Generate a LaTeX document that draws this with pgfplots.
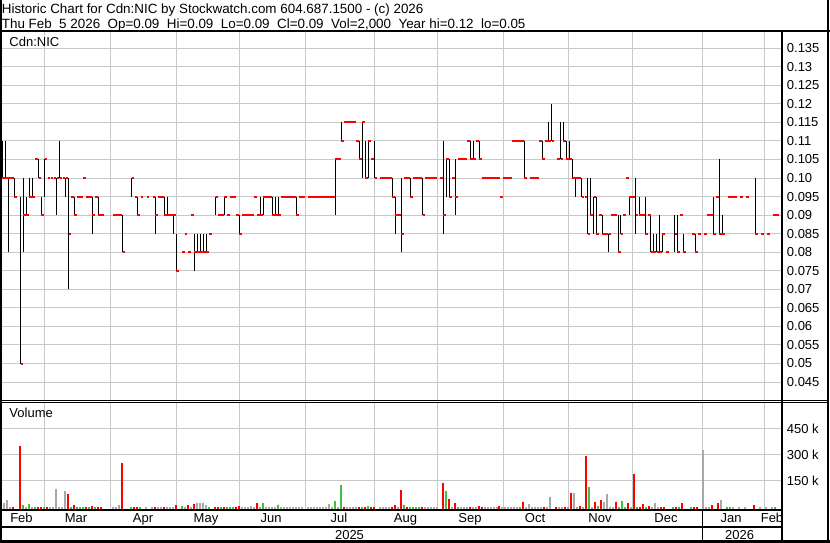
\documentclass[border=0pt]{standalone}
\usepackage{pgfplots}
\pgfplotsset{compat=1.18}
\usepackage{pgfplotstable}
\usepackage{fontspec}
\setmainfont{Liberation Sans}
\definecolor{gridc}{RGB}{200,200,200}
\definecolor{volg}{RGB}{64,192,64}
\definecolor{volgray}{RGB}{168,168,168}
\newcommand{\fs}{\fontsize{13bp}{15bp}\selectfont}
\newcommand{\fst}{\fontsize{13.4bp}{15bp}\selectfont}

% price bars: x position (px), high, low, close
\pgfplotstableread{
x hi lo cl
2.2 0.11 0.10 0.10
5.3 0.11 0.10 0.10
8.3 0.10 0.08 0.10
11.3 0.10 0.10 0.10
14.3 0.10 0.095 0.095
20.7 0.095 0.05 0.05
23.3 0.10 0.08 0.09
26.3 0.095 0.09 0.09
29.3 0.10 0.095 0.095
32.3 0.10 0.095 0.095
35.3 0.105 0.105 0.105
38.7 0.105 0.10 0.10
41.3 0.095 0.09 0.09
44.7 0.105 0.095 0.105
47.5 0.10 0.10 0.10
50.5 0.10 0.10 0.10
53.5 0.10 0.10 0.10
56.7 0.10 0.09 0.10
59.7 0.11 0.10 0.10
62.7 0.10 0.10 0.10
65.7 0.10 0.095 0.10
68.7 0.10 0.07 0.085
71.3 0.095 0.095 0.095
74.3 0.095 0.09 0.09
77.3 0.095 0.095 0.095
80.3 0.095 0.095 0.095
83.0 0.10 0.10 0.10
86.0 0.095 0.095 0.095
89.0 0.095 0.095 0.095
92.3 0.095 0.085 0.09
95.3 0.095 0.095 0.095
98.3 0.095 0.09 0.09
101.3 0.09 0.09 0.09
113.3 0.09 0.09 0.09
116.3 0.09 0.09 0.09
119.3 0.09 0.09 0.09
122.7 0.09 0.08 0.08
131.7 0.10 0.095 0.10
134.5 0.095 0.095 0.095
137.3 0.095 0.09 0.09
140.5 0.095 0.095 0.095
146.5 0.095 0.095 0.095
152.5 0.095 0.095 0.095
155.3 0.095 0.085 0.09
158.3 0.095 0.095 0.095
161.3 0.095 0.095 0.095
164.3 0.095 0.09 0.09
167.0 0.095 0.09 0.09
170.0 0.09 0.09 0.09
173.3 0.09 0.085 0.09
176.3 0.085 0.075 0.075
182.0 0.08 0.08 0.08
184.7 0.085 0.085 0.085
188.0 0.08 0.08 0.08
191.0 0.09 0.09 0.09
194.3 0.085 0.075 0.08
197.3 0.085 0.08 0.08
200.3 0.085 0.08 0.08
203.3 0.085 0.08 0.08
206.3 0.085 0.08 0.08
209.0 0.085 0.085 0.085
215.7 0.095 0.09 0.095
218.3 0.09 0.09 0.09
221.3 0.09 0.09 0.09
224.3 0.095 0.09 0.095
227.0 0.09 0.09 0.09
230.0 0.095 0.095 0.095
233.0 0.095 0.095 0.095
236.0 0.09 0.09 0.09
239.3 0.09 0.085 0.085
242.0 0.09 0.09 0.09
245.0 0.09 0.09 0.09
248.0 0.09 0.09 0.09
251.0 0.09 0.09 0.09
254.0 0.095 0.095 0.095
257.3 0.09 0.09 0.09
260.3 0.095 0.09 0.09
263.3 0.095 0.09 0.095
266.3 0.095 0.095 0.095
269.3 0.095 0.095 0.095
272.3 0.095 0.09 0.09
275.3 0.095 0.09 0.09
278.3 0.095 0.09 0.09
281.3 0.095 0.095 0.095
284.3 0.095 0.095 0.095
287.3 0.095 0.095 0.095
290.3 0.095 0.095 0.095
293.3 0.095 0.095 0.095
296.3 0.095 0.09 0.09
299.3 0.095 0.095 0.095
302.3 0.095 0.095 0.095
308.3 0.095 0.095 0.095
311.3 0.095 0.095 0.095
314.3 0.095 0.095 0.095
317.3 0.095 0.095 0.095
320.3 0.095 0.095 0.095
323.3 0.095 0.095 0.095
326.3 0.095 0.095 0.095
329.3 0.095 0.095 0.095
332.3 0.095 0.095 0.095
335.3 0.105 0.09 0.105
338.3 0.105 0.105 0.105
341.3 0.115 0.11 0.11
344.3 0.115 0.115 0.115
347.3 0.115 0.115 0.115
350.3 0.115 0.115 0.115
353.3 0.115 0.115 0.115
356.3 0.11 0.11 0.11
359.3 0.11 0.105 0.105
362.3 0.115 0.10 0.115
365.3 0.11 0.10 0.10
368.3 0.11 0.10 0.11
371.0 0.105 0.105 0.105
374.7 0.11 0.10 0.10
380.0 0.10 0.10 0.10
383.0 0.10 0.10 0.10
386.0 0.10 0.10 0.10
389.0 0.10 0.10 0.10
392.3 0.10 0.095 0.095
395.3 0.095 0.085 0.09
398.3 0.09 0.09 0.09
401.3 0.10 0.08 0.085
404.3 0.10 0.10 0.10
407.3 0.10 0.10 0.10
410.3 0.10 0.095 0.095
413.3 0.10 0.10 0.10
416.3 0.10 0.10 0.10
419.3 0.10 0.10 0.10
422.7 0.10 0.09 0.09
425.3 0.10 0.10 0.10
428.3 0.10 0.10 0.10
431.3 0.10 0.10 0.10
434.3 0.10 0.10 0.10
440.0 0.10 0.10 0.10
443.3 0.11 0.085 0.09
446.3 0.105 0.095 0.105
449.3 0.105 0.095 0.095
452.3 0.10 0.10 0.10
455.3 0.105 0.09 0.095
458.3 0.105 0.105 0.105
461.3 0.105 0.105 0.105
464.3 0.105 0.105 0.105
467.3 0.11 0.11 0.11
470.3 0.11 0.105 0.105
473.0 0.11 0.105 0.105
476.0 0.11 0.11 0.11
479.0 0.11 0.105 0.105
482.0 0.10 0.10 0.10
485.0 0.10 0.10 0.10
488.0 0.10 0.10 0.10
491.0 0.10 0.10 0.10
494.0 0.10 0.10 0.10
497.0 0.10 0.10 0.10
500.3 0.095 0.095 0.095
503.3 0.10 0.10 0.10
506.3 0.10 0.10 0.10
509.3 0.10 0.10 0.10
512.0 0.11 0.11 0.11
515.0 0.11 0.11 0.11
518.0 0.11 0.11 0.11
521.0 0.11 0.11 0.11
524.3 0.11 0.10 0.10
530.0 0.10 0.10 0.10
533.0 0.10 0.10 0.10
536.0 0.10 0.10 0.10
539.0 0.11 0.11 0.11
542.3 0.11 0.105 0.105
545.3 0.11 0.11 0.11
548.3 0.115 0.11 0.11
551.7 0.12 0.11 0.11
557.0 0.105 0.105 0.105
560.7 0.115 0.105 0.105
563.3 0.115 0.11 0.11
566.3 0.11 0.105 0.105
569.3 0.11 0.105 0.105
572.3 0.105 0.10 0.10
575.3 0.10 0.095 0.10
578.3 0.10 0.10 0.10
581.7 0.10 0.095 0.095
584.7 0.095 0.095 0.095
587.7 0.10 0.085 0.085
590.3 0.10 0.09 0.09
593.7 0.095 0.085 0.095
596.3 0.095 0.085 0.085
599.3 0.09 0.09 0.09
602.0 0.09 0.085 0.085
605.0 0.085 0.085 0.085
608.7 0.085 0.08 0.085
611.3 0.09 0.09 0.09
614.3 0.09 0.09 0.09
618.0 0.09 0.08 0.08
620.7 0.09 0.085 0.085
623.0 0.09 0.09 0.09
626.0 0.10 0.10 0.10
629.3 0.095 0.09 0.095
632.3 0.095 0.095 0.095
635.7 0.10 0.085 0.09
639.0 0.095 0.09 0.09
642.0 0.09 0.09 0.09
645.0 0.095 0.085 0.085
648.0 0.09 0.09 0.09
650.7 0.09 0.08 0.08
653.3 0.085 0.08 0.08
656.7 0.085 0.08 0.08
659.3 0.09 0.08 0.08
662.3 0.085 0.08 0.085
666.0 0.08 0.08 0.08
674.7 0.09 0.08 0.085
677.3 0.09 0.08 0.08
680.3 0.09 0.09 0.09
683.3 0.085 0.08 0.08
692.0 0.085 0.085 0.085
695.3 0.085 0.08 0.08
698.0 0.085 0.085 0.085
704.0 0.085 0.085 0.085
707.3 0.09 0.09 0.09
710.3 0.09 0.09 0.09
713.3 0.095 0.085 0.085
716.0 0.095 0.095 0.095
719.3 0.105 0.085 0.085
722.3 0.09 0.085 0.085
728.3 0.095 0.095 0.095
731.3 0.095 0.095 0.095
734.3 0.095 0.095 0.095
740.0 0.095 0.095 0.095
746.0 0.095 0.095 0.095
755.3 0.10 0.085 0.085
761.0 0.085 0.085 0.085
767.0 0.085 0.085 0.085
773.3 0.09 0.09 0.09
776.3 0.09 0.09 0.09
}\pricedata

\pgfplotstableread{
x v
13.3 0
19.7 353000
37.7 0
40.7 1000
46.7 0
67.7 76000
73.7 13000
85.7 0
91.7 3000
97.7 0
100.7 0
121.7 255000
133.7 0
136.7 0
154.7 1000
163.7 1000
175.7 13000
187.7 11000
193.7 19000
214.7 0
217.7 0
223.7 0
235.7 0
238.7 7000
256.7 24000
343.7 0
358.7 0
364.7 0
370.7 0
373.7 0
391.7 1000
394.7 13000
400.7 99000
406.7 0
421.7 1000
442.7 138000
448.7 47000
454.7 24000
469.7 0
478.7 5000
481.7 1000
499.3 7000
523.3 30000
544.3 0
556.3 0
565.3 0
571.3 82000
580.3 5000
586.3 296000
595.3 30000
601.3 40000
616.3 30000
628.3 24000
634.3 192000
640.3 1000
643.3 17000
649.3 7000
661.3 0
664.3 1000
676.3 1000
682.3 24000
694.3 0
697.3 0
712.3 11000
718.3 24000
754.3 11000
}\volred

\pgfplotstableread{
x v
22.7 11000
28.7 19000
34.7 1000
43.7 0
70.7 0
76.7 0
79.7 0
82.7 0
88.7 0
94.7 0
130.7 1000
139.7 1000
181.7 5000
208.7 0
220.7 0
226.7 0
229.7 0
232.7 0
262.7 24000
277.7 11000
334.7 36000
340.7 126000
361.7 1000
367.7 5000
403.7 13000
409.7 0
412.7 0
415.7 0
418.7 0
445.7 94000
457.7 0
520.3 0
589.3 117000
598.3 5000
619.3 0
622.3 36000
625.3 0
637.3 0
646.3 0
673.3 0
679.3 0
691.3 0
727.3 0
730.3 0
775.3 0
}\volgreen

\pgfplotstableread{
x v
1.3 36000
4.0 24000
7.3 42000
10.3 0
25.7 0
31.7 0
49.7 0
52.7 0
55.7 105000
58.7 0
61.7 0
64.7 94000
112.7 0
115.7 1000
118.7 13000
145.7 0
151.7 0
157.7 0
160.7 0
166.7 0
169.7 0
172.7 0
184.7 0
190.7 0
196.7 24000
199.7 24000
202.7 24000
205.7 11000
241.7 0
244.7 0
247.7 0
250.7 7000
253.7 0
259.7 0
265.7 0
268.7 0
271.7 0
274.7 0
280.7 0
283.7 0
286.7 0
289.7 0
292.7 0
295.7 0
298.7 0
301.7 0
307.7 0
310.7 0
313.7 0
316.7 0
319.7 0
322.7 0
325.7 0
328.7 19000
331.7 0
337.7 1000
346.7 0
349.7 0
352.7 0
355.7 0
379.7 1000
382.7 0
385.7 0
388.7 0
397.7 0
424.7 0
427.7 0
430.7 0
433.7 0
436.7 0
451.7 0
460.7 0
463.7 0
466.7 0
472.7 0
475.7 0
484.7 0
487.7 0
490.7 0
493.7 0
496.7 0
502.3 1000
505.3 1000
508.3 1000
511.3 0
514.3 0
517.3 1000
526.3 0
529.3 17000
532.3 0
535.3 1000
538.3 0
541.3 0
547.3 0
550.3 59000
559.3 1000
562.3 0
568.3 1000
574.3 82000
577.3 0
583.3 0
592.3 0
604.3 30000
607.3 74000
610.3 0
613.3 1000
631.3 0
652.3 0
655.3 24000
658.3 0
703.3 328000
706.3 0
709.3 0
721.3 40000
733.3 0
739.3 0
745.3 0
760.3 1000
766.3 0
772.3 0
}\volgray

\pgfplotsset{
  chartbase/.style={
    scale only axis, anchor=north west, width=779bp,
    xmin=2, xmax=781,
    axis line style={draw=none},
    xtick={44.3,110.3,176.3,239.3,305.7,374.3,437.3,503.3,568.3,632.7,702,764.7},
    xticklabels={},
    xmajorgrids, ymajorgrids,
    major grid style={gridc, line width=1bp},
    major tick length=0pt, minor tick length=0pt,
    scaled y ticks=false, scaled x ticks=false,
    yticklabel pos=right,
    tick label style={font=\fs},
    yticklabel style={anchor=west, inner sep=0pt, xshift=5.7bp},
  },
  hl/.style={draw=none, mark=none, forget plot,
    error bars/.cd, y dir=minus, y explicit, error mark=none,
    error bar style={draw=#1, line width=1bp}},
  ct/.style={draw=none, mark=none, forget plot,
    error bars/.cd, x dir=plus, x fixed=2.6, error mark=none,
    error bar style={draw=#1, line width=2bp}},
  vb/.style={draw=none, mark=none, forget plot,
    error bars/.cd, y dir=minus, y explicit, error mark=none,
    error bar style={draw=#1, line width=2bp}},
}

\begin{document}
\begin{tikzpicture}
\path[use as bounding box] (0,0) rectangle (830bp,-543bp);

% ---------- price panel ----------
\begin{axis}[chartbase,
  at={(2bp,-32bp)}, height=368bp,
  ymin=0.040162, ymax=0.139353,
  ytick={0.045,0.05,0.055,0.06,0.065,0.07,0.075,0.08,0.085,0.09,0.095,0.10,0.105,0.11,0.115,0.12,0.125,0.13,0.135},
  yticklabels={0.045,0.05,0.055,0.06,0.065,0.07,0.075,0.08,0.085,0.09,0.095,0.10,0.105,0.11,0.115,0.12,0.125,0.13,0.135},
]
\addplot[hl=black]
  table[x=x, y=hi, y error expr=\thisrow{hi}-\thisrow{lo}] {\pricedata};
\addplot[ct=red]
  table[x=x, y=cl] {\pricedata};
\end{axis}

% ---------- volume panel ----------
\begin{axis}[chartbase,
  at={(2bp,-402bp)}, height=107bp,
  ymin=-12000, ymax=605390,
  ytick={150000,300000,450000},
  yticklabels={150 k,300 k,450 k},
  extra x ticks={21.5,76,143,206,271,339,405.5,470,535,600,666,731,772},
  extra x tick labels={Feb,Mar,Apr,May,Jun,Jul,Aug,Sep,Oct,Nov,Dec,Jan,Feb},
  extra x tick style={grid=none, major tick length=0pt,
    xticklabel style={anchor=base, inner sep=0pt, yshift=-13.7bp}},
]
\addplot[vb=red]
  table[x=x, y=v, y error expr=\thisrow{v}+12000] {\volred};
\addplot[vb=volg]
  table[x=x, y=v, y error expr=\thisrow{v}+12000] {\volgreen};
\addplot[vb=volgray]
  table[x=x, y=v, y error expr=\thisrow{v}+12000] {\volgray};
\end{axis}

% hide the part of the last month label beyond the right axis line
\fill[white] (783bp,-510bp) rectangle (827bp,-527bp);

% ---------- texts ----------
\node[anchor=base west, inner sep=0pt, font=\fst] at (1.7bp,-13.3bp)
  {Historic Chart for Cdn:NIC by Stockwatch.com 604.687.1500 - (c) 2026};
\node[anchor=base west, inner sep=0pt, font=\fst] at (1.7bp,-28bp)
  {Thu Feb\ \ 5 2026\ \ Op=0.09\ \ Hi=0.09\ \ Lo=0.09\ \ Cl=0.09\ \ Vol=2,000\ \ Year hi=0.12\ \ lo=0.05};
\node[anchor=base west, inner sep=0pt, font=\fs] at (9.3bp,-46.7bp) {Cdn:NIC};
\node[anchor=base west, inner sep=0pt, font=\fs] at (9.3bp,-417.3bp) {Volume};
\node[anchor=base, inner sep=0pt, font=\fs] at (349.5bp,-539.3bp) {2025};
\node[anchor=base, inner sep=0pt, font=\fs] at (739.7bp,-539.3bp) {2026};

% ---------- frame ----------
\draw[line width=2bp] (1bp,0bp) -- (1bp,-543bp);
\draw[line width=2bp] (828bp,0bp) -- (828bp,-543bp);
\draw[line width=3bp] (0bp,-541.5bp) -- (830bp,-541.5bp);
\draw[line width=2bp] (0bp,-31bp) -- (830bp,-31bp);
\draw[line width=1bp] (0bp,-400.5bp) -- (828bp,-400.5bp);
\draw[line width=1bp] (0bp,-402.5bp) -- (828bp,-402.5bp);
\draw[line width=2bp] (0bp,-510bp) -- (782bp,-510bp);
\draw[line width=2bp] (0bp,-526.7bp) -- (782bp,-526.7bp);
\draw[line width=2bp] (782bp,-31bp) -- (782bp,-543bp);
\draw[line width=1bp] (702bp,-510bp) -- (702bp,-541bp);
\end{tikzpicture}
\end{document}
